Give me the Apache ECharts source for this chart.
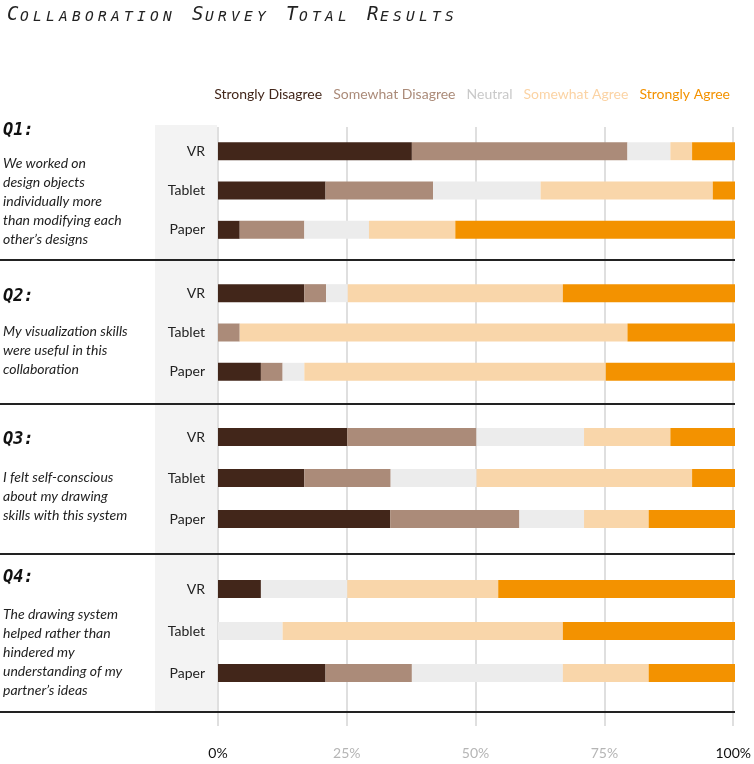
<!DOCTYPE html>
<html>
<head>
<meta charset="utf-8">
<script src="https://cdn.jsdelivr.net/npm/echarts@6/dist/echarts.min.js"></script>
<style>
html,body{margin:0;padding:0;background:#fff;}
#chart{width:754px;height:764px;}
</style>
</head>
<body>
<div id="chart"></div>
<script>
// ---------- data ----------
const devices = ['VR', 'Tablet', 'Paper'];
const responses = ['Strongly Disagree', 'Somewhat Disagree', 'Neutral', 'Somewhat Agree', 'Strongly Agree'];
const xTicks = ['0%', '25%', '50%', '75%', '100%'];
const chartTitle = 'COLLABORATION SURVEY TOTAL RESULTS';
const questionLabels = ['Q1:', 'Q2:', 'Q3:', 'Q4:'];

const q1Text = ['We worked on', 'design objects', 'individually more', 'than modifying each', 'other\u2019s designs'];
const q2Text = ['My visualization skills', 'were useful in this', 'collaboration'];
const q3Text = ['I felt self-conscious', 'about my drawing', 'skills with this system'];
const q4Text = ['The drawing system', 'helped rather than', 'hindered my', 'understanding of my', 'partner\u2019s ideas'];

// percent of responses: [Strongly Disagree, Somewhat Disagree, Neutral, Somewhat Agree, Strongly Agree]
const q1VR     = [37.5, 41.7, 8.3, 4.2, 8.3];
const q1Tablet = [20.8, 20.8, 20.8, 33.3, 4.3];
const q1Paper  = [4.2, 12.5, 12.5, 16.7, 54.1];
const q2VR     = [16.7, 4.2, 4.2, 41.6, 33.3];
const q2Tablet = [0, 4.2, 0, 75.0, 20.8];
const q2Paper  = [8.3, 4.2, 4.2, 58.3, 25.0];
const q3VR     = [25.0, 25.0, 20.8, 16.7, 12.5];
const q3Tablet = [16.7, 16.7, 16.6, 41.7, 8.3];
const q3Paper  = [33.3, 25.0, 12.5, 12.5, 16.7];
const q4VR     = [8.3, 0, 16.7, 29.2, 45.8];
const q4Tablet = [0, 0, 12.5, 54.2, 33.3];
const q4Paper  = [20.8, 16.7, 29.2, 16.6, 16.7];

// ---------- style ----------
const barColors = ['#42261a', '#ab8b79', '#ececec', '#f9d6aa', '#f39200'];
const legendColors = ['#42261a', '#ab8b79', '#c9c9c9', '#fbd3a4', '#f39200'];
const sansFont = 'Lato';
const monoFont = 'DejaVu Sans Mono';
const titleFont = 'DejaVu Sans Mono';

const questions = [
  { rows: [q1VR, q1Tablet, q1Paper], text: q1Text },
  { rows: [q2VR, q2Tablet, q2Paper], text: q2Text },
  { rows: [q3VR, q3Tablet, q3Paper], text: q3Text },
  { rows: [q4VR, q4Tablet, q4Paper], text: q4Text }
];

// layout (pixels)
const plotLeft = 218, plotRight = 19;
const groupTops = [131.5, 273.5, 416.5, 568];
const groupHeights = [118, 118, 123, 126];
const labelY = [131, 297, 440, 578];
const textY = [163, 331, 477, 614];
const sepY = [260, 404, 554, 712];

// ---------- build ----------
const grids = [], xAxes = [], yAxes = [], series = [];
questions.forEach((q, qi) => {
  grids.push({ left: plotLeft, right: plotRight, top: groupTops[qi], height: groupHeights[qi] });
  xAxes.push({ gridIndex: qi, type: 'value', min: 0, max: 100, show: false });
  yAxes.push({
    gridIndex: qi, type: 'category', data: devices, inverse: true,
    axisLine: { show: false }, axisTick: { show: false }, splitLine: { show: false },
    axisLabel: { color: '#222', fontSize: 14, fontFamily: sansFont, margin: 13 }
  });
  responses.forEach((r, ri) => {
    series.push({
      name: r, type: 'bar', stack: 'q' + qi, xAxisIndex: qi, yAxisIndex: qi,
      barWidth: 18, itemStyle: { color: barColors[ri] },
      emphasis: { disabled: true },
      data: q.rows.map(row => row[ri])
    });
  });
});
// background grid for vertical gridlines + percent axis
grids.push({ left: plotLeft, right: plotRight, top: 127, height: 599 });
xAxes.push({
  gridIndex: 4, type: 'value', min: 0, max: 100, interval: 25,
  axisLine: { show: false }, axisTick: { show: false },
  splitLine: { show: true, lineStyle: { color: '#d4d4d4', width: 1.5 } },
  axisLabel: {
    margin: 20,
    formatter: (v) => {
      const i = Math.round(v / 25);
      return (i === 0 || i === 4) ? '{k|' + xTicks[i] + '}' : '{g|' + xTicks[i] + '}';
    },
    rich: {
      k: { color: '#111', fontSize: 14, fontFamily: sansFont },
      g: { color: '#b5b5b5', fontSize: 14, fontFamily: sansFont }
    }
  }
});
yAxes.push({ gridIndex: 4, type: 'value', min: 0, max: 1, show: false });

// title rich text (small caps, spaced)
const titleRich = chartTitle.split(' ').map(w =>
  '{B|' + w[0] + '}' + w.slice(1).split('').map(c => '{s|' + c + '}').join('')
).join('{sp| }');

const graphics = [
  { type: 'rect', z: -10, shape: { x: 155, y: 125, width: 62, height: 587 }, style: { fill: '#f3f3f3' } }
];
sepY.forEach(y => graphics.push({
  type: 'line', z: 50, shape: { x1: 0, y1: y, x2: 735, y2: y }, style: { stroke: '#222', lineWidth: 2 }
}));
questions.forEach((q, qi) => {
  graphics.push({
    type: 'text', z: 50, style: {
      text: questionLabels[qi], x: 3, y: labelY[qi], fill: '#111',
      fontSize: 17, fontFamily: monoFont, fontWeight: 'bold', fontStyle: 'italic', verticalAlign: 'middle'
    }
  });
  graphics.push({
    type: 'text', z: 50, style: {
      text: q.text.join('\n'), x: 3, y: textY[qi] - 9.5, lineHeight: 19, fill: '#222',
      fontSize: 14, fontFamily: sansFont, fontStyle: 'italic', verticalAlign: 'top'
    }
  });
});

const chart = echarts.init(document.getElementById('chart'), null, { renderer: 'canvas' });
chart.setOption({
  animation: false,
  backgroundColor: '#fff',
  title: {
    text: titleRich, left: 2, top: 1,
    textStyle: {
      fontWeight: 'normal',
      rich: {
        B: { fontSize: 19, width: 13, fontFamily: titleFont, fontStyle: 'italic', fontWeight: 'normal', color: '#222', verticalAlign: 'bottom' },
        s: { fontSize: 14.5, width: 13, fontFamily: titleFont, fontStyle: 'italic', fontWeight: 'normal', color: '#222', verticalAlign: 'bottom' },
        sp: { fontSize: 14.5, width: 16, verticalAlign: 'bottom' }
      }
    }
  },
  legend: {
    right: plotRight, top: 82, icon: 'none', itemWidth: 0, itemHeight: 14, itemGap: 6,
    selectedMode: false,
    textStyle: { fontSize: 14, fontFamily: sansFont },
    data: responses.map((r, i) => ({ name: r, textStyle: { color: legendColors[i] } }))
  },
  grid: grids,
  xAxis: xAxes,
  yAxis: yAxes,
  series: series,
  graphic: graphics
});
</script>
</body>
</html>
